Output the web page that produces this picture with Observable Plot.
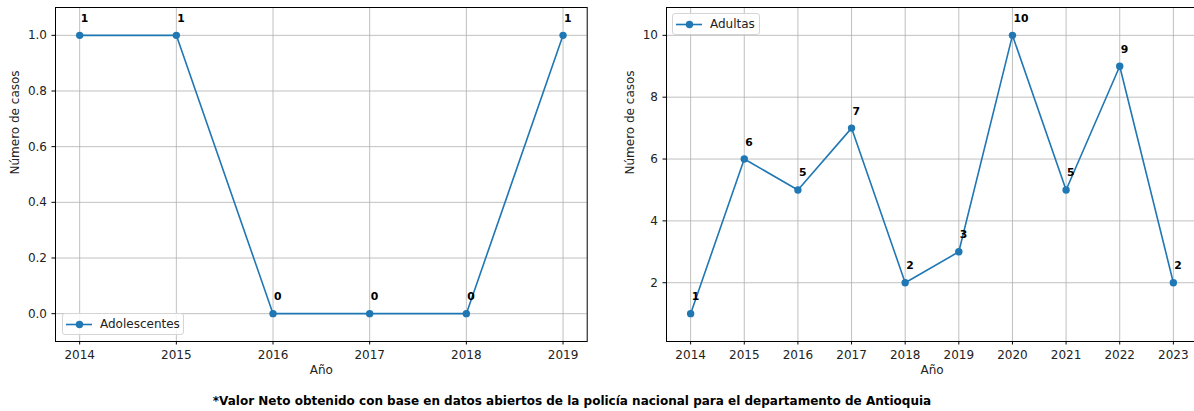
<!DOCTYPE html>
<html>
<head>
<meta charset="utf-8">
<script src="https://cdn.jsdelivr.net/npm/d3@7"></script>
<script src="https://cdn.jsdelivr.net/npm/@observablehq/plot@0.6"></script>
<style>
  html, body { margin: 0; padding: 0; background: #fff; }
  #root { position: relative; width: 1194px; height: 411px; overflow: hidden; background: #fff; font-family: "DejaVu Sans", sans-serif; }
  .panel { position: absolute; top: 0; }
  .legend { position: absolute; box-sizing: border-box; height: 22px; border: 1px solid #d5d5d5; border-radius: 3px; background: rgba(255,255,255,0.85); font-size: 12px; color: #222; }
  .legend svg { position: absolute; left: 0; top: 0; }
  .legend span { position: absolute; top: 3px; white-space: nowrap; }
  #caption { position: absolute; left: 0; width: 1144px; top: 394px; text-align: center; font-weight: bold; font-size: 12px; color: #000; }
</style>
</head>
<body>
<div id="root"></div>
<script>
// ---- data ----
const yearsAdolescentes = [2014, 2015, 2016, 2017, 2018, 2019];
const casosAdolescentes = [1, 1, 0, 0, 0, 1];
const yearsAdultas = [2014, 2015, 2016, 2017, 2018, 2019, 2020, 2021, 2022, 2023];
const casosAdultas = [1, 6, 5, 7, 2, 3, 10, 5, 9, 2];
const yTicksAdolescentes = [0, 0.2, 0.4, 0.6, 0.8, 1.0];
const yTicksAdultas = [2, 4, 6, 8, 10];
const seriesNames = ["Adolescentes", "Adultas"];
const xLabel = "Año";
const yLabel = "Número de casos";
const captionText = "*Valor Neto obtenido con base en datos abiertos de la policía nacional para el departamento de Antioquia";

const blue = "#1f77b4";
const gridStyle = {stroke: "#b0b0b0", strokeOpacity: 1, strokeWidth: 0.8};

function panel({years, values, xDomain, yDomain, yTicks, yFormat, marginLeft, marginRight, yLabelDx}) {
  const data = years.map((y, i) => ({year: y, value: values[i]}));
  return Plot.plot({
    width: 600,
    height: 380,
    marginTop: 7,
    marginBottom: 39,
    marginLeft,
    marginRight,
    style: {fontFamily: "DejaVu Sans", fontSize: "12px", background: "transparent", color: "#222", overflow: "visible"},
    x: {domain: xDomain},
    y: {domain: yDomain},
    marks: [
      Plot.gridX(years, gridStyle),
      Plot.gridY(yTicks, gridStyle),
      Plot.axisX(years, {tickFormat: d => String(d), tickSize: 3.5, tickPadding: 5.5, label: null, stroke: "#000"}),
      Plot.axisY(yTicks, {tickFormat: yFormat, tickSize: 3.5, tickPadding: 5, label: null, stroke: "#000"}),
      Plot.line(data, {x: "year", y: "value", stroke: blue, strokeWidth: 1.6}),
      Plot.dot(data, {x: "year", y: "value", r: 3.7, fill: blue, stroke: "none"}),
      Plot.text(data, {x: "year", y: "value", text: d => String(d.value), textAnchor: "start", dx: 1, dy: -17, fontWeight: "bold", fontSize: 10.8, fill: "#000"}),
      Plot.frame({stroke: "#000", strokeWidth: 1}),
      Plot.text([xLabel], {frameAnchor: "bottom", dy: 32.5, text: d => d, fill: "#222"}),
      Plot.text([yLabel], {frameAnchor: "left", dx: yLabelDx, rotate: -90, text: d => d, fill: "#222"})
    ]
  });
}

function legend(name, left, top, width) {
  const div = document.createElement("div");
  div.className = "legend";
  div.style.left = left + "px";
  div.style.top = top + "px";
  div.style.width = width + "px";
  div.innerHTML = `<svg width="40" height="22"><line x1="3" x2="29" y1="10.5" y2="10.5" stroke="${blue}" stroke-width="1.6"/><circle cx="16.5" cy="10.5" r="3.7" fill="${blue}"/></svg><span style="left:37px">${name}</span>`;
  return div;
}

const root = document.getElementById("root");

const left = panel({
  years: yearsAdolescentes, values: casosAdolescentes,
  xDomain: [2013.75, 2019.25], yDomain: [-0.1, 1.1],
  yTicks: yTicksAdolescentes, yFormat: d3.format(".1f"),
  marginLeft: 55, marginRight: 13.3, yLabelDx: -40
});
left.classList.add("panel");
left.style.left = "0px";
root.appendChild(left);

const right = panel({
  years: yearsAdultas, values: casosAdultas,
  xDomain: [2013.55, 2023.45], yDomain: [0.1, 10.9],
  yTicks: yTicksAdultas, yFormat: d => String(d),
  marginLeft: 66, marginRight: 3, yLabelDx: -36
});
right.classList.add("panel");
right.style.left = "600px";
root.appendChild(right);

root.appendChild(legend(seriesNames[0], 62, 313, 122));
root.appendChild(legend(seriesNames[1], 672, 13, 88));

const cap = document.createElement("div");
cap.id = "caption";
cap.textContent = captionText;
root.appendChild(cap);
</script>
</body>
</html>
